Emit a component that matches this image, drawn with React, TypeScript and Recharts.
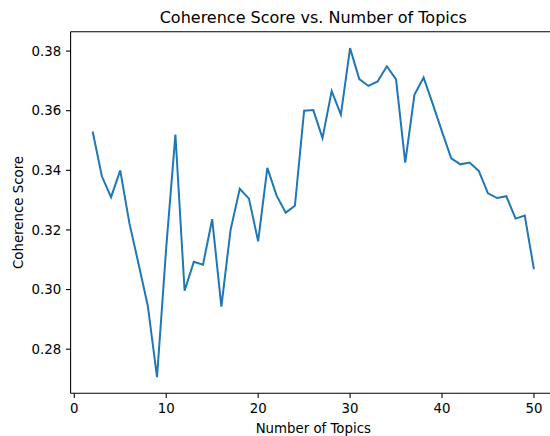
import { LineChart, Line, XAxis, YAxis, ReferenceLine } from "recharts";

// number of topics tried by the model sweep
const topics = [
  2, 3, 4, 5, 6, 7, 8, 9, 10, 11, 12, 13, 14, 15, 16, 17, 18, 19, 20, 21, 22,
  23, 24, 25, 26, 27, 28, 29, 30, 31, 32, 33, 34, 35, 36, 37, 38, 39, 40, 41,
  42, 43, 44, 45, 46, 47, 48, 49, 50,
];

// coherence score
const scores = [
  0.353, 0.338, 0.331, 0.34, 0.3222, 0.3085, 0.2945, 0.2706, 0.314, 0.352,
  0.2996, 0.3093, 0.3083, 0.3236, 0.2943, 0.32, 0.3338, 0.3305, 0.3162,
  0.3408, 0.3316, 0.3258, 0.3281, 0.36, 0.3602, 0.3508, 0.3666, 0.3587, 0.381,
  0.3706, 0.3683, 0.3698, 0.3749, 0.3705, 0.3426, 0.3653, 0.3711, 0.3622,
  0.353, 0.344, 0.342, 0.3426, 0.3398, 0.3323, 0.3307, 0.3313, 0.3238,
  0.3248, 0.3068,
];

const xTicks = [0, 10, 20, 30, 40, 50];
const yTicks = [0.28, 0.3, 0.32, 0.34, 0.36, 0.38];

const data = topics.map((t, i) => ({ topics: t, score: scores[i] }));

const FONT = "'DejaVu Sans', sans-serif";
const X_DOMAIN: [number, number] = [-0.4, 52.4];
const Y_DOMAIN: [number, number] = [0.2652, 0.3865];

export default function App() {
  return (
    <div
      style={{
        position: "absolute",
        left: 0,
        top: 0,
        width: 550,
        height: 436,
        overflow: "hidden",
        background: "#fff",
        fontFamily: FONT,
      }}
    >
      <div
        style={{
          position: "absolute",
          left: 70.6,
          width: 485.4,
          top: 9.8,
          textAlign: "center",
          fontSize: 16,
          lineHeight: 1,
          color: "#000",
          whiteSpace: "nowrap",
        }}
      >
        Coherence Score vs. Number of Topics
      </div>
      <LineChart
        width={600}
        height={436}
        data={data}
        margin={{ top: 31.7, right: 44, bottom: 0, left: 0 }}
      >
        <XAxis
          type="number"
          dataKey="topics"
          domain={X_DOMAIN}
          ticks={xTicks}
          allowDataOverflow
          height={42.7}
          tickSize={4.67}
          tickMargin={6}
          axisLine={{ stroke: "#000", strokeWidth: 1.07 }}
          tickLine={{ stroke: "#000", strokeWidth: 1.07 }}
          tick={{ fill: "#000", fontSize: 13.33, fontFamily: FONT }}
          label={{
            value: "Number of Topics",
            position: "insideBottom",
            offset: 3.3,
            fill: "#000",
            fontSize: 13.33,
            fontFamily: FONT,
          }}
        />
        <YAxis
          type="number"
          domain={Y_DOMAIN}
          ticks={yTicks}
          allowDataOverflow
          width={70.6}
          tickSize={4.67}
          tickMargin={4.67}
          tickFormatter={(v: number) => v.toFixed(2)}
          axisLine={{ stroke: "#000", strokeWidth: 1.07 }}
          tickLine={{ stroke: "#000", strokeWidth: 1.07 }}
          tick={{ fill: "#000", fontSize: 13.33, fontFamily: FONT }}
          label={{
            value: "Coherence Score",
            angle: -90,
            position: "insideLeft",
            offset: 18,
            fill: "#000",
            fontSize: 13.33,
            fontFamily: FONT,
            style: { textAnchor: "middle" },
          }}
        />
        {/* top spine */}
        <ReferenceLine y={Y_DOMAIN[1]} stroke="#000" strokeWidth={1.07} />
        <Line
          type="linear"
          dataKey="score"
          stroke="#1f77b4"
          strokeWidth={2}
          dot={false}
          isAnimationActive={false}
        />
      </LineChart>
    </div>
  );
}
